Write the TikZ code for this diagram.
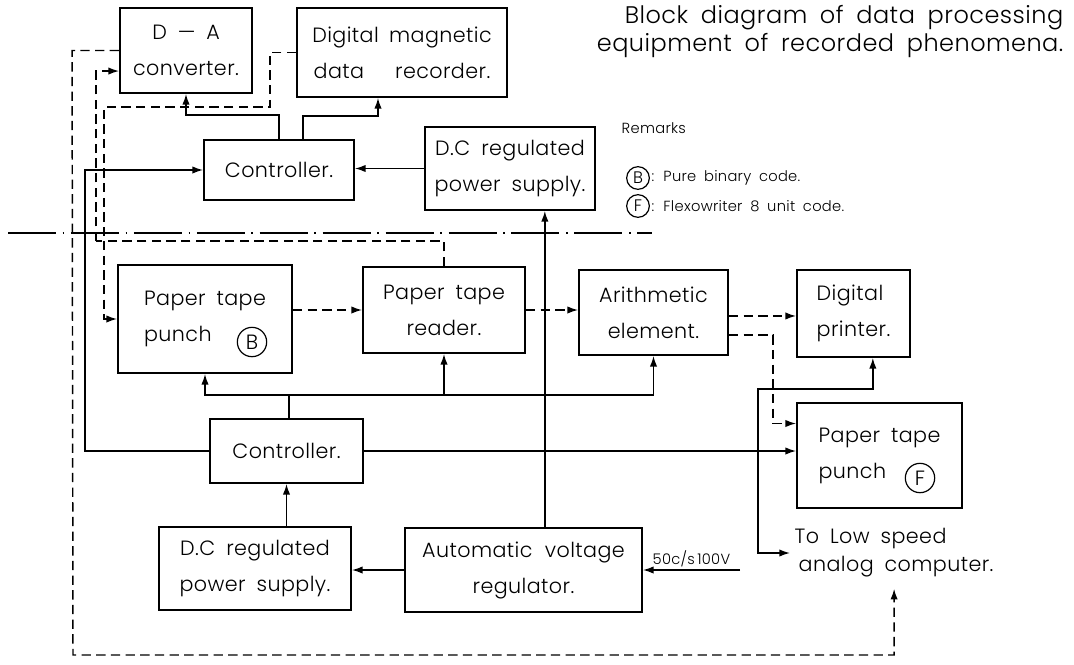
\documentclass[tikz,border=0pt]{standalone}
\usepackage{fontspec}
\setmainfont{Poppins}[UprightFont=* Light,LetterSpace=2,WordSpace=1.8]
\usetikzlibrary{arrows.meta}

\newcommand{\boxfont}{\fontsize{15.5}{27}\selectfont}
\newcommand{\notefont}{\fontsize{11}{12}\selectfont}

\begin{document}
\begin{tikzpicture}[x=0.75pt, y=-0.75pt,
    block/.style={draw, line width=1.4pt, inner sep=1pt, align=center, font=\boxfont},
    wire/.style={line width=1.1pt},
    arr/.style={wire, -{Latex[length=8pt,width=5.5pt]}},
    dline/.style={line width=1.1pt, dash pattern=on 7pt off 4pt},
    darr/.style={dline, -{Latex[length=8pt,width=5.5pt]}},
    dashdot/.style={line width=1pt, dash pattern=on 36pt off 5pt on 1.2pt off 5pt},
    cmark/.style={draw, circle, line width=0.9pt, inner sep=0pt, minimum size=17pt, font=\fontsize{12.5}{12.5}\selectfont}]

    \useasboundingbox (0, 0) rectangle (1074, 664);

    \node[block, minimum width=99pt, minimum height=63.75pt] (da) at (186, 50.5) {D — A\\converter.};
    \node[block, minimum width=157.5pt, minimum height=66.75pt] (rec) at (402, 52.5) {Digital\hspace{0.5em}magnetic\\data\hspace{1.5em}recorder.};
    \node[block, minimum width=112.5pt, minimum height=45pt] (ctla) at (279, 170) {Controller.};
    \node[block, minimum width=127.5pt, minimum height=62.25pt] (dca) at (510, 168.5) {D.C regulated\\power supply.};

    \node[anchor=north east, align=right, font=\fontsize{18}{20.5}\selectfont] (title) at (1068, 1) {Block diagram of data processing\\equipment of recorded phenomena.};
    \node[anchor=west, font=\notefont] (remarks) at (617, 128) {Remarks};
    \node[cmark] (markb) at (638, 178) {B};
    \node[anchor=west, font=\notefont, inner sep=1pt] (noteb) at (markb.east) {: Pure binary code.};
    \node[cmark] (markf) at (638, 206) {F};
    \node[anchor=west, font=\notefont, inner sep=1pt] (notef) at (markf.east) {: Flexowriter 8 unit code.};

    \draw[dashdot] (8, 233) -- (652, 233);

    \node[block, align=left, minimum width=130.5pt, minimum height=81pt] (punchb) at (205, 319) {Paper tape\\punch};
    \node[cmark, minimum size=22pt, font=\boxfont] (codeb) at (252, 342) {B};
    \node[block, minimum width=121.5pt, minimum height=64.5pt] (reader) at (444, 310) {Paper tape\\reader.};
    \node[block, minimum width=111.75pt, minimum height=63.75pt] (arith) at (653.5, 312.5) {Arithmetic\\element.};
    \node[block, align=left, minimum width=84.75pt, minimum height=65.25pt] (printer) at (853.5, 313.5) {Digital\\printer.};

    \node[block, minimum width=114.75pt, minimum height=48pt] (ctlb) at (286.5, 451) {Controller.};
    \node[block, align=left, minimum width=123.75pt, minimum height=78.75pt] (punchf) at (879.5, 455.5) {Paper tape\\punch};
    \node[cmark, minimum size=22pt, font=\boxfont] (codef) at (920, 478) {F};
    \node[anchor=west, align=left, font=\fontsize{15.5}{21}\selectfont] (lowspeed) at (790, 553) {To Low speed\\\hspace{3pt}analog computer.};

    \node[block, minimum width=144pt, minimum height=62.25pt] (dcb) at (255, 568.5) {D.C regulated\\power supply.};
    \node[block, minimum width=177.75pt, minimum height=63pt] (avr) at (523.5, 570) {Automatic\hspace{0.6em}voltage\\regulator.};

    \draw[arr] (ctla.north) -- ++(0, -24) -| (da.south);
    \draw[arr] ([xshift=18pt]ctla.north) -- ++(0, -23) -| ([xshift=-18pt]rec.south);
    \draw[arr] (dca.west) -- (dca.west -| ctla.east);
    \draw[arr] ([xshift=16pt]avr.north) -- ([xshift=16pt]avr.north |- dca.south);

    \coordinate (bus) at (289, 395);
    \draw[wire] (ctlb.north -| bus) -- (bus);
    \draw[arr] (bus) -| (punchb.south);
    \draw[arr] (bus) -| (reader.south);
    \draw[arr] (bus) -| (arith.south);

    \draw[arr] (dcb.north -| ctlb.south) -- (ctlb.south);
    \draw[arr] (avr.west) -- (avr.west -| dcb.east);
    \coordinate (mains) at (740, 570);
    \draw[arr] (mains) -- (avr.east) node[midway, above, font=\notefont, inner sep=1.5pt] (mainslbl) {50c/s\,100V};

    \draw[arr] (ctlb.west) -- ++(-124, 0) |- (ctla.west);
    \draw[arr] (ctlb.east) -- (ctlb.east -| punchf.west);
    \coordinate (tap) at (758, 451);
    \draw[arr] (tap) -- (758, 389) -| ([xshift=14.5pt]printer.south);
    \draw[arr] (tap) |- (lowspeed.west);

    \draw[darr] (punchb.east |- reader.west) -- (reader.west);
    \draw[darr] (reader.east) -- (reader.east -| arith.west);
    \draw[darr] ([yshift=-2.6pt]arith.east) -- ([yshift=-2.6pt]arith.east -| printer.west);
    \draw[darr] ([yshift=-17pt]arith.east) -- ++(44, 0) |- ([yshift=24pt]punchf.west);

    \draw[darr, shorten >=5pt] (da.west) -- ++(-47, 0) -- (73, 655) -| (lowspeed.south);
    \draw[dline] (rec.west) -- (270, 52.5) -- (270, 107) -- (104, 107) -- (104, 241);
    \coordinate (tapefeed) at (96, 241);
    \coordinate (punchfeed) at (104, 241);
    \draw[dline] (reader.north) |- (tapefeed);
    \draw[darr] (tapefeed) |- ([yshift=-15.4pt]da.west);
    \draw[darr] (punchfeed) |- (punchb.west);

\end{tikzpicture}
\end{document}
